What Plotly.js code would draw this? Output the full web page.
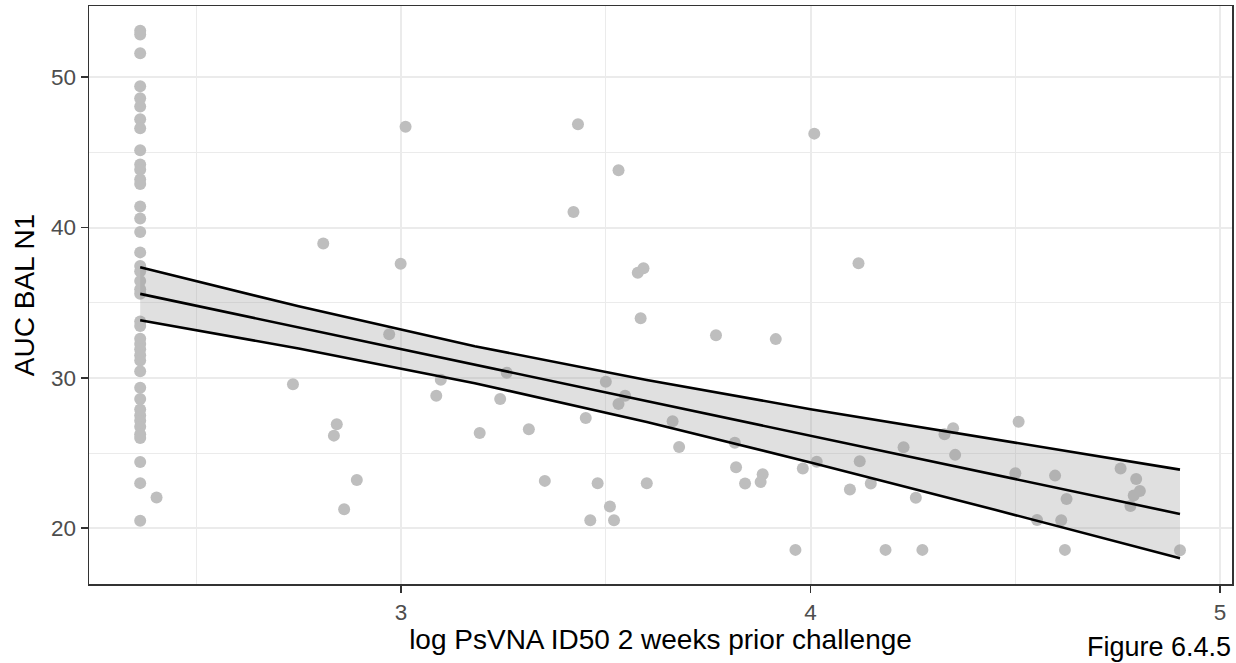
<!DOCTYPE html>
<html>
<head>
<meta charset="utf-8">
<script src="https://cdn.plot.ly/plotly-3.0.1.min.js"></script>
<style>
html,body{margin:0;padding:0;background:#fff;}
#chart{width:1236px;height:663px;}
</style>
</head>
<body>
<div id="chart"></div>
<script>
// Left column: samples below detection (same x)
const leftX = 2.363;
const leftY = [53.1, 52.85, 51.6, 49.4, 48.6, 48.05, 47.2, 46.6, 45.15, 44.2, 43.85, 43.2, 42.9,
  41.4, 40.6, 39.7, 38.35, 37.45, 37.1, 36.45, 35.9, 35.6, 33.75, 33.45, 32.6, 32.25, 31.9, 31.5,
  31.15, 30.45, 29.35, 28.6, 27.9, 27.5, 27.15, 26.75, 26.25, 26.0, 24.4, 23.0, 20.5];

const ptX = [2.403, 3.011, 3.432, 3.531, 3.421, 2.810, 2.999, 3.578, 3.592, 4.009, 4.117,
  3.585, 2.971, 2.736, 3.258, 3.097, 3.086, 3.242, 3.500, 3.547, 3.531, 3.451, 2.843, 2.836,
  3.192, 3.312, 2.892, 3.351, 3.480, 3.600, 3.510, 2.861, 3.462, 3.520,
  3.769, 3.915, 3.663, 3.679, 3.815, 3.818, 3.840, 3.883, 3.878, 3.981, 4.015, 3.963,
  4.120, 4.096, 4.147, 4.183, 4.273, 4.227, 4.257, 4.327, 4.348, 4.353, 4.508, 4.500, 4.553,
  4.597, 4.625, 4.612, 4.621, 4.757, 4.795, 4.804, 4.789, 4.781, 4.902];
const ptY = [22.04, 46.71, 46.87, 43.82, 41.04, 38.94, 37.59, 37.0, 37.3, 46.25, 37.63,
  33.97, 32.9, 29.58, 30.35, 29.87, 28.82, 28.6, 29.75, 28.82, 28.27, 27.34, 26.92, 26.16,
  26.34, 26.59, 23.21, 23.15, 22.99, 22.99, 21.44, 21.26, 20.53, 20.53,
  32.84, 32.58, 27.12, 25.41, 25.68, 24.06, 22.97, 23.59, 23.08, 23.97, 24.43, 18.56,
  24.46, 22.57, 22.97, 18.56, 18.56, 25.39, 22.02, 26.25, 26.65, 24.88, 27.09, 23.66, 20.55,
  23.50, 21.95, 20.53, 18.56, 23.97, 23.28, 22.48, 22.17, 21.48, 18.54];

// Linear fit with 95% confidence band
const fitX = [2.363, 2.75, 3.18, 3.6, 4.0, 4.45, 4.902];
const fitY = [35.59, 33.36, 30.88, 28.46, 26.15, 23.56, 20.95];
const fitLo = [33.83, 31.96, 29.65, 27.07, 24.38, 21.23, 18.00];
const fitHi = [37.36, 34.76, 32.11, 29.86, 27.92, 25.89, 23.90];

const xTicks = [3, 4, 5];
const yTicks = [20, 30, 40, 50];

const allX = leftY.map(() => leftX).concat(ptX);
const allY = leftY.concat(ptY);

const traces = [
  {type: 'scatter', mode: 'markers', x: allX, y: allY,
   marker: {color: '#bebebe', size: 12, line: {width: 0}}, hoverinfo: 'x+y', showlegend: false},
  {type: 'scatter', mode: 'lines', x: fitX, y: fitLo,
   line: {color: '#000000', width: 2.6}, showlegend: false},
  {type: 'scatter', mode: 'lines', x: fitX, y: fitHi, fill: 'tonexty',
   fillcolor: 'rgba(153,153,153,0.3)',
   line: {color: '#000000', width: 2.6}, showlegend: false},
  {type: 'scatter', mode: 'lines', x: fitX, y: fitY,
   line: {color: '#000000', width: 2.6}, showlegend: false}
];

const font = {family: 'Liberation Sans, Arial, sans-serif'};

const layout = {
  width: 1236, height: 663,
  margin: {l: 89, r: 4, t: 6, b: 79},
  paper_bgcolor: '#ffffff', plot_bgcolor: '#ffffff',
  font: {family: font.family, color: '#000000'},
  showlegend: false,
  xaxis: {
    range: [2.238, 5.029], tickvals: xTicks, ticktext: xTicks.map(String),
    showgrid: true, gridcolor: '#ebebeb', gridwidth: 2,
    minor: {tickvals: [2.5, 3.5, 4.5], showgrid: true, gridcolor: '#ebebeb', gridwidth: 1.1, ticks: ''},
    zeroline: false, showline: true, mirror: true, linecolor: '#333333', linewidth: 1.5,
    ticks: 'outside', ticklen: 7, tickwidth: 1.8, tickcolor: '#333333',
    tickfont: {family: font.family, size: 22.5, color: '#4d4d4d'},
    title: {text: 'log PsVNA ID50 2 weeks prior challenge', font: {family: font.family, size: 28, color: '#000000'}, standoff: 4}
  },
  yaxis: {
    range: [16.29, 54.74], tickvals: yTicks, ticktext: yTicks.map(String),
    showgrid: true, gridcolor: '#ebebeb', gridwidth: 2,
    minor: {tickvals: [25, 35, 45], showgrid: true, gridcolor: '#ebebeb', gridwidth: 1.1, ticks: ''},
    zeroline: false, showline: true, mirror: true, linecolor: '#333333', linewidth: 1.5,
    ticks: 'outside', ticklen: 7, tickwidth: 1.8, tickcolor: '#333333',
    tickfont: {family: font.family, size: 22.5, color: '#4d4d4d'},
    title: {text: 'AUC BAL N1', font: {family: font.family, size: 28, color: '#000000'}, standoff: 8}
  },
  annotations: [{
    text: 'Figure 6.4.5', xref: 'paper', yref: 'paper', x: 1.0, y: -0.1375,
    xanchor: 'right', yanchor: 'bottom', showarrow: false, borderpad: 0,
    font: {family: font.family, size: 27, color: '#000000'}
  }]
};

Plotly.newPlot('chart', traces, layout, {displayModeBar: false, staticPlot: true});
</script>
</body>
</html>
